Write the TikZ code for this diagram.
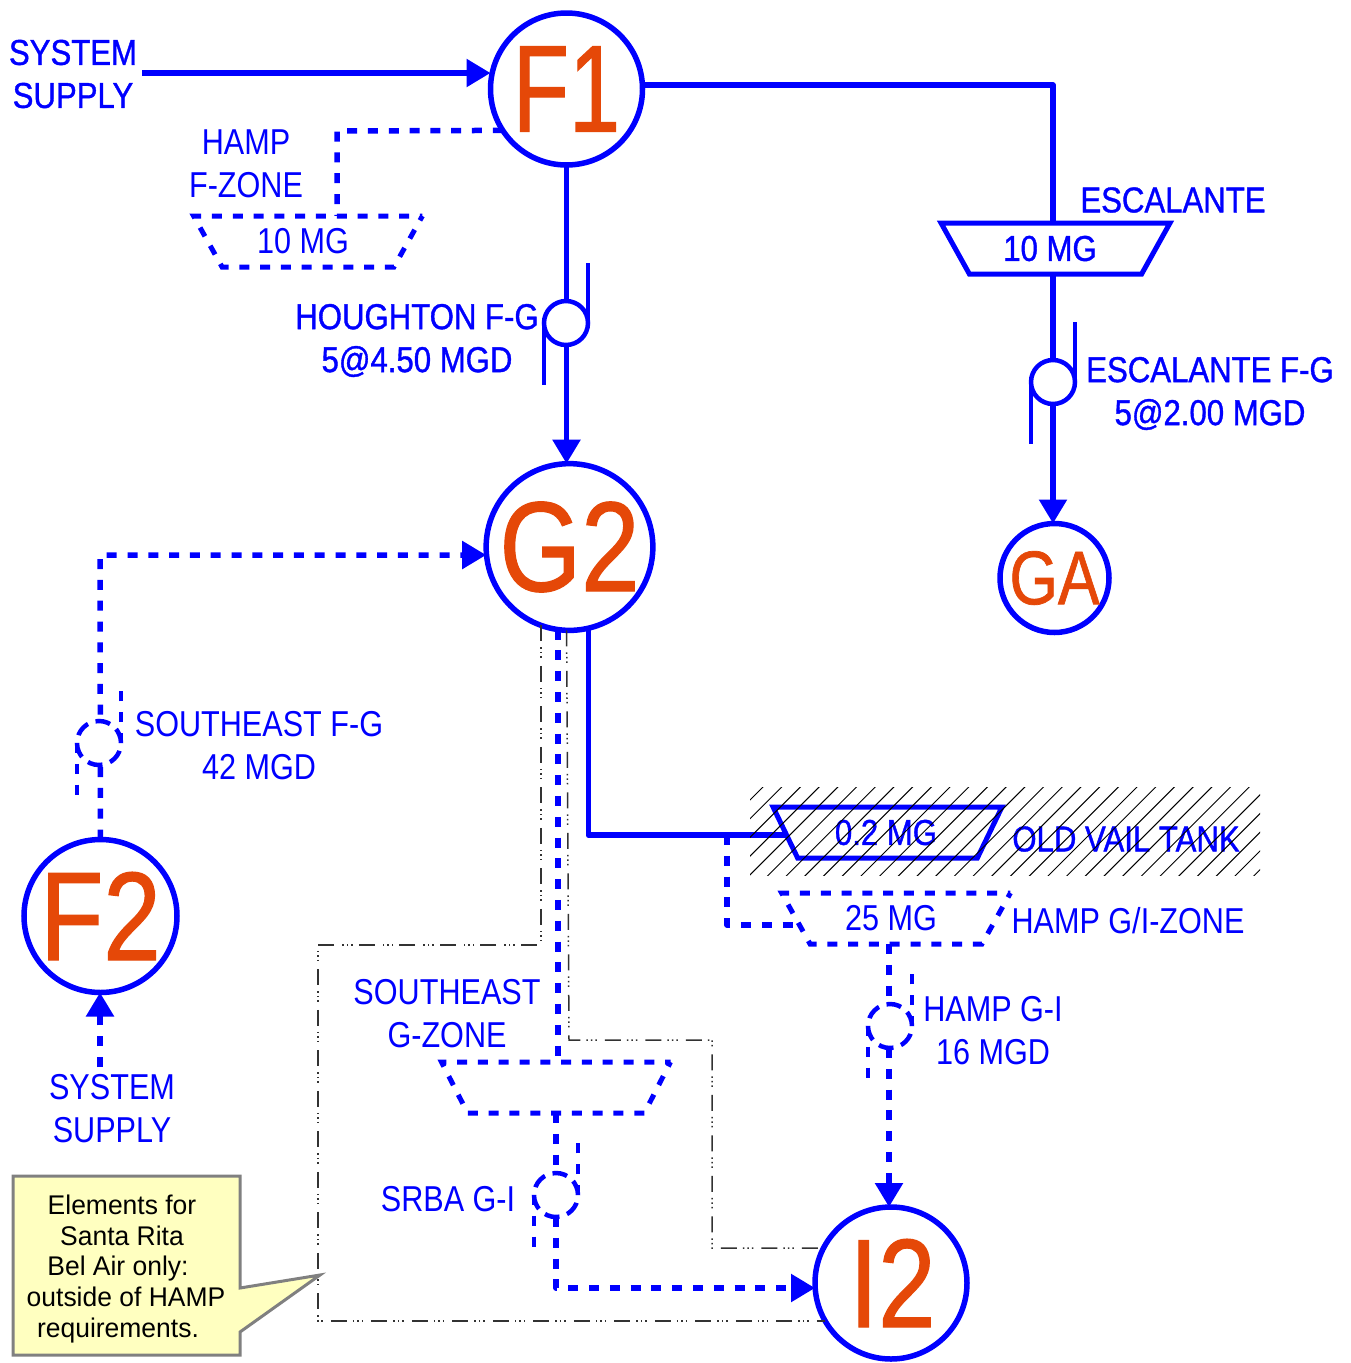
\documentclass[tikz,border=0pt]{standalone}
\usepackage{fontspec}
\usetikzlibrary{arrows.meta,shapes.geometric}
\setmainfont{Liberation Sans}
\newfontfamily\narf[FakeStretch=0.85]{Liberation Sans}
\newfontfamily\narb[FakeStretch=0.865,FakeBold=1]{Liberation Sans}
\newfontfamily\calf[FakeStretch=0.98]{Liberation Sans}
\newfontfamily\bigf[FakeStretch=0.82,FakeBold=0.9]{Liberation Sans}
\newfontfamily\bign[FakeStretch=0.74,FakeBold=0.9]{Liberation Sans}
\definecolor{pipe}{RGB}{0,0,255}
\definecolor{zone}{RGB}{229,72,8}
\definecolor{note}{RGB}{255,255,192}
\definecolor{noteline}{RGB}{128,128,128}
\definecolor{thin}{RGB}{50,50,50}
\tikzset{
  pipeline/.style={draw=pipe,line width=5.5pt,line join=round},
  dashline/.style={pipeline,dash pattern=on 10pt off 10.8pt},
  sideline/.style={draw=pipe,line width=4pt},
  sidedash/.style={sideline,dash pattern=on 10pt off 10.8pt},
  tipped/.style={-{Triangle[length=24pt,width=27pt,fill=pipe]}},
  zonecircle/.style={circle,draw=pipe,line width=5.5pt,fill=white,inner sep=0pt,outer sep=0pt,text=zone},
  pump/.style={circle,draw=pipe,line width=4.5pt,fill=white,minimum size=44pt,inner sep=0pt,outer sep=0pt},
  pumpdash/.style={pump,dash pattern=on 15pt off 8pt},
  tank/.style={trapezium,trapezium stretches=true,shape border rotate=180,trapezium angle=62,minimum width=229pt,minimum height=51pt,inner sep=0pt,outer sep=0pt,draw=pipe,line width=5pt,line join=miter,text=pipe},
  tankdash/.style={tank,dash pattern=on 10pt off 10.8pt,dash phase=5pt},
  lab/.style={text=pipe,align=center,inner sep=0pt,font=\fontsize{36}{43}\selectfont\narf},
  labb/.style={text=pipe,align=center,inner sep=0pt,font=\fontsize{36}{43}\selectfont\narb},
  elec/.style={draw=thin,line width=1.5pt,dash pattern=on 16pt off 6pt on 1.5pt off 3pt on 1.5pt off 3pt on 1.5pt off 8pt}
}
\begin{document}
\begin{tikzpicture}[x=1pt,y=-1pt]
\useasboundingbox (0,0) rectangle (1351,1363);
% coordinates of free ends and bends
\coordinate (s1) at (142,73);
\coordinate (b1) at (1053,85);
\coordinate (b2) at (337,131);
\coordinate (b3) at (100,555);
\coordinate (b4) at (586,835);
\coordinate (b5) at (727,835);
\coordinate (b6) at (727,925);
\coordinate (b7) at (556,1288);
\coordinate (s2) at (100,1067);
\coordinate (e1) at (541,945);
\coordinate (e2) at (318,945);
\coordinate (e3) at (318,1321);
\coordinate (e4) at (569,1040);
\coordinate (e5) at (712,1040);
\coordinate (e6) at (712,1248);
% zones
\node[zonecircle,minimum size=152pt,font=\fontsize{124}{124}\selectfont\bign] (F1) at (566.5,89) {\raisebox{-4pt}{F1}};
\node[zonecircle,minimum size=162pt,font=\fontsize{128}{128}\selectfont\bigf] (G2) at (569.5,547) {G2};
\node[zonecircle,minimum size=109pt,font=\fontsize{76}{76}\selectfont\bigf] (GA) at (1054.5,578) {\raisebox{-1pt}{GA}};
\node[zonecircle,minimum size=153pt,font=\fontsize{126}{126}\selectfont\bigf] (F2) at (100.5,916) {F2};
\node[zonecircle,minimum size=152pt,font=\fontsize{126}{126}\selectfont\bigf] (I2) at (891,1283) {\hspace*{3pt}I2};
% tanks
\node[tank,font=\fontsize{36}{43}\selectfont\narb] (TE) at (1055.5,248.5) {\hspace*{-11pt}\raisebox{-1pt}{10 MG}};
\node[tankdash,font=\fontsize{36}{43}\selectfont\narf] (TH) at (308,241.5) {\hspace*{-10pt}\raisebox{-1.5pt}{10 MG}};
\node[tank,font=\fontsize{36}{43}\selectfont\narb] (TV) at (887.5,832.5) {\hspace*{-3pt}\raisebox{-2pt}{0.2 MG}};
\node[tankdash,font=\fontsize{36}{43}\selectfont\narf] (TG) at (896,918.5) {\hspace*{-10pt}\raisebox{-2pt}{25 MG}};
\node[tankdash,font=\fontsize{36}{43}\selectfont\narf] (TS) at (556,1087.5) {\phantom{10 MG}};
% connectors
\draw[pipeline,tipped] (s1) -- (s1 -| F1.west);
\draw[dashline] (F1.213) -- (b2) -- (b2 |- TH.north);
\draw[pipeline,tipped] (F1.south) -- (G2.north -| F1.south);
\draw[pipeline] (b1 -| F1.3) -- (b1) -- (b1 |- TE.north);
\draw[pipeline,tipped] (b1 |- TE.south) -- (b1 |- GA.north);
\draw[dashline,tipped] (F2.north) -- (b3) -- (b3 -| G2.west);
\draw[dashline,tipped] (s2) -- (s2 |- F2.south);
\draw[dashline] (G2.262) -- (G2.262 |- TS.north);
\draw[pipeline] (G2.283) -- (G2.283 |- b4) -- (TV.west |- b4);
\draw[dashline] (b5) -- (b6) -- (TG.west |- b6);
\draw[dashline,tipped] (889,944) -- (889,1207);
\draw[dashline,tipped] (TS.south -| b7) -- (b7) -- (b7 -| I2.west);
\draw[elec] (G2.250 -| e1) -- (e1) -- (e2) -- (e3) -- (e3 -| I2.209);
\draw[elec] (G2.268) -- (e4) -- (e5) -- (e6) -- (e6 -| I2.153);
% pumps
\node[pump] (P1) at (566,323) {};
\draw[sideline] (P1.east) -- ++(0,-60);
\draw[sideline] (P1.west) -- ++(0,62);
\node[pump] (P2) at (1053,382) {};
\draw[sideline] (P2.east) -- ++(0,-60);
\draw[sideline] (P2.west) -- ++(0,62);
\node[pumpdash] (P3) at (99,743) {};
\draw[sidedash] (P3.east) -- ++(0,-58);
\draw[sidedash] (P3.west) -- ++(0,58);
\node[pumpdash] (P4) at (890,1026) {};
\draw[sidedash] (P4.east) -- ++(0,-59);
\draw[sidedash] (P4.west) -- ++(0,59);
\node[pumpdash] (P5) at (556,1195) {};
\draw[sidedash] (P5.east) -- ++(0,-60);
\draw[sidedash] (P5.west) -- ++(0,60);
% labels
\node[labb] (l1) at (73,74) {SYSTEM\\SUPPLY};
\node[lab] (l2) at (246,164) {HAMP\\F-ZONE};
\node[labb] (l3) at (417,340.5) {HOUGHTON F-G\\5@4.50 MGD};
\node[labb] (l4) at (1173,200) {ESCALANTE};
\node[labb] (l5) at (1210,393.5) {ESCALANTE F-G\\5@2.00 MGD};
\node[lab] (l6) at (259,746) {SOUTHEAST F-G\\42 MGD};
\node[labb] (l7) at (1126,839) {OLD VAIL TANK};
\node[lab] (l8) at (1128,921) {HAMP G/I-ZONE};
\node[lab] (l9) at (993,1031) {HAMP G-I\\16 MGD};
\node[lab] (l10) at (447,1014) {SOUTHEAST\\G-ZONE};
\node[lab] (l11) at (112,1109) {SYSTEM\\SUPPLY};
\node[lab] (l12) at (448,1199) {SRBA G-I};
% hatching
\begin{scope}
\clip (750,787) rectangle (1260,875);
\foreach \k in {-5,...,36}
  \draw[black,line width=1pt] ({650+18.7*\k},900) -- ++(130,-130);
\end{scope}
% callout
\draw[draw=noteline,fill=note,line width=3pt,line join=miter] (13,1176) -- (240,1176) -- (240,1288) -- (320,1275) -- (240,1332) -- (240,1355) -- (13,1355) -- cycle;
\node[align=center,inner sep=0pt,text=black,font=\fontsize{27}{30.8}\selectfont\calf] (note) at (122,1269) {Elements for\\Santa Rita\\\hspace*{-8pt}Bel Air only:\\\hspace*{8pt}outside of HAMP\\\hspace*{-8pt}requirements.};
\end{tikzpicture}
\end{document}
